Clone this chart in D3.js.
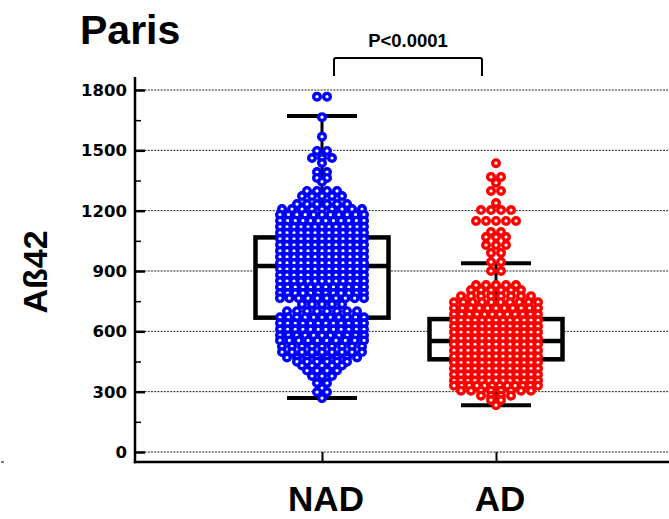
<!DOCTYPE html>
<html>
<head>
<meta charset="utf-8">
<script src="https://cdn.jsdelivr.net/npm/d3@7"></script>
<style>
html,body{margin:0;padding:0;background:#fff;}
svg{display:block;}
</style>
</head>
<body>
<svg id="chart" width="669" height="519"></svg>
<script>
// ---- data ----
const categories = ["NAD", "AD"];
const colors = ["#0000ff", "#ff0000"];
const yTicks = [0, 300, 600, 900, 1200, 1500, 1800];
const yMinorTicks = [150, 450, 750, 1050, 1350, 1650];

// beeswarm rows (value of row, number of points in that row)
const nadRowValues = [1767,1665,1568,1497,1462,1437,1392,1363,1344,1298,1273,1233,1208,1180,1150,1120,1090,1060,1030,1000,970,940,910,880,850,820,790,765,735,700,670,640,610,580,555,525,497,470,449,430,405,378,343,318,298,268];
const nadRowCounts = [2,1,1,2,3,1,2,2,1,4,5,6,9,11,12,13,13,13,13,13,13,13,13,13,13,12,12,10,5,8,11,12,12,11,10,9,9,8,6,5,4,3,2,1,2,1];

const adRowValues = [1436,1368,1339,1298,1238,1203,1149,1094,1069,1029,990,945,900,830,805,775,745,715,685,655,625,595,565,535,505,475,445,415,385,355,330,305,280,258,233];
const adRowCounts = [1,2,1,2,1,4,5,2,3,3,2,2,2,5,6,8,10,11,12,13,13,13,13,13,13,13,13,13,13,13,12,8,4,2,1];

// box plot statistics
const q1 = [668, 461];
const median = [925, 552];
const q3 = [1067, 661];
const whiskerLow = [268, 232];
const whiskerHigh = [1671, 938];

const title = "Paris";
const pText = "P<0.0001";
const yTitle = "A\u00df42";

// ---- drawing ----
const svg = d3.select("#chart");
const W = 669, H = 519;

const y = d3.scaleLinear().domain([0, 1800]).range([452, 90]);
const x = d3.scalePoint().domain(categories).range([148, 670]).padding(1);
const axisX = 135, axisBottom = 462;

// gridlines
svg.append("g").selectAll("line").data(yTicks).join("line")
  .attr("x1", axisX).attr("x2", W)
  .attr("y1", d => y(d)).attr("y2", d => y(d))
  .attr("stroke", "#222").attr("stroke-width", 1)
  .attr("stroke-dasharray", "2,1.2");

// y axis
const yAxis = d3.axisRight(y).tickValues(yTicks).tickSize(10).tickFormat("");
const gy = svg.append("g").attr("transform", `translate(${axisX},0)`).call(yAxis);
gy.select(".domain").remove();
gy.selectAll(".tick line").attr("stroke", "#000").attr("stroke-width", 2.5);
const yMinor = d3.axisRight(y).tickValues(yMinorTicks).tickSize(6).tickFormat("");
const gym = svg.append("g").attr("transform", `translate(${axisX},0)`).call(yMinor);
gym.select(".domain").remove();
gym.selectAll(".tick line").attr("stroke", "#000").attr("stroke-width", 1.5);

svg.append("line").attr("x1", axisX).attr("x2", axisX).attr("y1", 77).attr("y2", axisBottom + 1.25)
  .attr("stroke", "#000").attr("stroke-width", 2.5);
svg.append("line").attr("x1", axisX - 1.25).attr("x2", W).attr("y1", axisBottom).attr("y2", axisBottom)
  .attr("stroke", "#000").attr("stroke-width", 2.5);

// y tick labels
svg.append("g").selectAll("text").data(yTicks).join("text")
  .attr("x", 127).attr("y", d => y(d)).attr("dy", "0.36em")
  .attr("text-anchor", "end")
  .attr("font-family", "DejaVu Sans").attr("font-weight", "bold").attr("font-size", 16.5)
  .text(d => d);

// x ticks
const xAxis = d3.axisTop(x).tickSize(10).tickFormat("");
const gx = svg.append("g").attr("transform", `translate(0,${axisBottom})`).call(xAxis);
gx.select(".domain").remove();
gx.selectAll(".tick line").attr("stroke", "#000").attr("stroke-width", 2);

// x labels
svg.append("g").selectAll("text").data(categories).join("text")
  .attr("x", d => x(d) + 4).attr("y", 511)
  .attr("text-anchor", "middle")
  .attr("font-family", "Liberation Sans, Arial, sans-serif").attr("font-weight", "bold").attr("font-size", 35)
  .text(d => d);

// y title
svg.append("text")
  .attr("transform", "translate(47,272) rotate(-90)")
  .attr("text-anchor", "middle")
  .attr("font-family", "Liberation Sans, Arial, sans-serif").attr("font-weight", "bold").attr("font-size", 34)
  .text(yTitle);

// title
svg.append("text").attr("x", 80).attr("y", 44)
  .attr("font-family", "Liberation Sans, Arial, sans-serif").attr("font-weight", "bold").attr("font-size", 41)
  .text(title);

// significance bracket
const bx1 = x(categories[0]) + 12, bx2 = x(categories[1]) - 14;
svg.append("path")
  .attr("d", `M${bx1},76 V60 Q${bx1},58 ${bx1+2},58 H${bx2-2} Q${bx2},58 ${bx2},60 V76`)
  .attr("fill", "none").attr("stroke", "#000").attr("stroke-width", 2);
svg.append("text").attr("x", (bx1 + bx2) / 2).attr("y", 47)
  .attr("text-anchor", "middle")
  .attr("font-family", "Liberation Sans, Arial, sans-serif").attr("font-weight", "bold").attr("font-size", 18.5)
  .text(pText);

// box plots
const boxW = 133, capW = 70;
categories.forEach((c, i) => {
  const cx = x(c);
  const g = svg.append("g");
  g.append("line").attr("x1", cx).attr("x2", cx).attr("y1", y(whiskerHigh[i])).attr("y2", y(whiskerLow[i]))
    .attr("stroke", "#000").attr("stroke-width", 3);
  [whiskerHigh[i], whiskerLow[i]].forEach(v => {
    g.append("line").attr("x1", cx - capW / 2).attr("x2", cx + capW / 2).attr("y1", y(v)).attr("y2", y(v))
      .attr("stroke", "#000").attr("stroke-width", 4);
  });
  g.append("rect").attr("x", cx - boxW / 2).attr("width", boxW)
    .attr("y", y(q3[i])).attr("height", y(q1[i]) - y(q3[i]))
    .attr("fill", "#fff").attr("stroke", "#000").attr("stroke-width", 4.5);
  g.append("line").attr("x1", cx - boxW / 2).attr("x2", cx + boxW / 2).attr("y1", y(median[i])).attr("y2", y(median[i]))
    .attr("stroke", "#000").attr("stroke-width", 4.5);
});

// points (beeswarm rows)
function rowsToPoints(values, counts, cx) {
  const pts = [];
  values.forEach((v, r) => {
    const n = counts[r];
    const dx = n > 1 ? Math.min(10, 84 / (n - 1)) : 0;
    for (let k = 0; k < n; k++) {
      pts.push({ v: v, x: cx + (k - (n - 1) / 2) * dx });
    }
  });
  return pts;
}
const groups = [
  rowsToPoints(nadRowValues, nadRowCounts, x(categories[0])),
  rowsToPoints(adRowValues, adRowCounts, x(categories[1]))
];
groups.forEach((pts, i) => {
  svg.append("g").selectAll("circle").data(pts).join("circle")
    .attr("cx", d => d.x).attr("cy", d => y(d.v)).attr("r", 3.3)
    .attr("fill", "#fff").attr("stroke", colors[i]).attr("stroke-width", 3.4);
});

// small stray mark at left edge
svg.append("line").attr("x1", 1).attr("x2", 4).attr("y1", 462).attr("y2", 462)
  .attr("stroke", "#555").attr("stroke-width", 1.5);
</script>
</body>
</html>
